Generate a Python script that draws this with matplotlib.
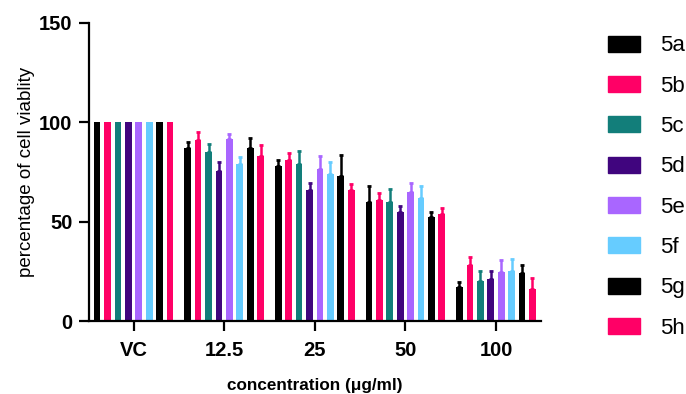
import numpy as np
import matplotlib
matplotlib.use('Agg')
import matplotlib.pyplot as plt

plt.rcParams['font.family'] = ['Liberation Sans', 'DejaVu Sans']

# data
groups = ['VC', '12.5', '25', '50', '100']
compounds = ['5a', '5b', '5c', '5d', '5e', '5f', '5g', '5h']
colors = ['#000000', '#FF0066', '#127E7A', '#40057E', '#A966FF', '#66CCFF', '#000000', '#FF0066']

v_5a = [100, 87.1, 77.8, 59.8, 17.3]
v_5b = [100, 90.9, 80.8, 60.7, 28.2]
v_5c = [100, 84.8, 79.0, 59.9, 20.3]
v_5d = [100, 75.5, 65.7, 54.8, 21.2]
v_5e = [100, 91.8, 76.7, 64.9, 24.5]
v_5f = [100, 78.8, 74.0, 61.7, 25.2]
v_5g = [100, 86.9, 72.8, 52.6, 24.0]
v_5h = [100, 82.8, 65.7, 53.8, 16.3]

# upper error (VC has none)
e_5a = [0, 3.1, 3.4, 8.3, 2.4]
e_5b = [0, 4.0, 3.8, 3.7, 4.2]
e_5c = [0, 4.3, 6.7, 6.7, 4.9]
e_5d = [0, 4.3, 3.9, 3.0, 4.0]
e_5e = [0, 2.5, 6.5, 4.5, 6.3]
e_5f = [0, 3.7, 6.0, 6.4, 6.1]
e_5g = [0, 5.2, 10.9, 2.4, 4.2]
e_5h = [0, 5.6, 3.4, 3.0, 5.5]

values = [v_5a, v_5b, v_5c, v_5d, v_5e, v_5f, v_5g, v_5h]
errors = [e_5a, e_5b, e_5c, e_5d, e_5e, e_5f, e_5g, e_5h]

fig = plt.figure(figsize=(6.86, 3.94), dpi=100)
ax = fig.add_axes([0.130, 0.185, 0.659, 0.757])

x = np.arange(len(groups))
pitch = 0.115
width = 0.074

for i in range(len(compounds)):
    pos = x + (i - 3.5) * pitch
    ax.bar(pos, values[i], width=width, color=colors[i], label=compounds[i])
    err = np.array(errors[i])
    m = err > 0  # skip groups without error bars
    ax.errorbar(pos[m], np.array(values[i])[m], yerr=[np.zeros(m.sum()), err[m]], fmt='none',
                ecolor=colors[i], elinewidth=1.8, capsize=1.6, capthick=2)

ax.set_xlim(-0.49, 4.5)
ax.set_ylim(0, 150)
ax.set_yticks([0, 50, 100, 150])
ax.set_xticks(x)
ax.set_xticklabels(groups)

for s in ['top', 'right']:
    ax.spines[s].set_visible(False)
for s in ['left', 'bottom']:
    ax.spines[s].set_linewidth(1.6)
ax.tick_params(axis='both', width=1.6, length=7, labelsize=14.5)
ax.tick_params(axis='x', pad=7.5)
ax.tick_params(axis='y', pad=5)
for lab in ax.get_xticklabels() + ax.get_yticklabels():
    lab.set_fontweight('bold')

ax.set_ylabel('percentage of cell viablity', fontsize=13.5, labelpad=3)
ax.set_xlabel('concentration (\u03bcg/ml)', fontsize=12.3, fontweight='bold', labelpad=12.5)

# legend on the right
handles = [plt.Rectangle((0, 0), 1, 1, color=c) for c in colors]
fig.legend(handles, compounds, loc='upper left', bbox_to_anchor=(0.886, 0.910),
           frameon=False, fontsize=16, handlelength=1.44, handleheight=0.72,
           handletextpad=0.9, labelspacing=0.87, borderaxespad=0, borderpad=0)

plt.savefig('out.png', dpi=100)
